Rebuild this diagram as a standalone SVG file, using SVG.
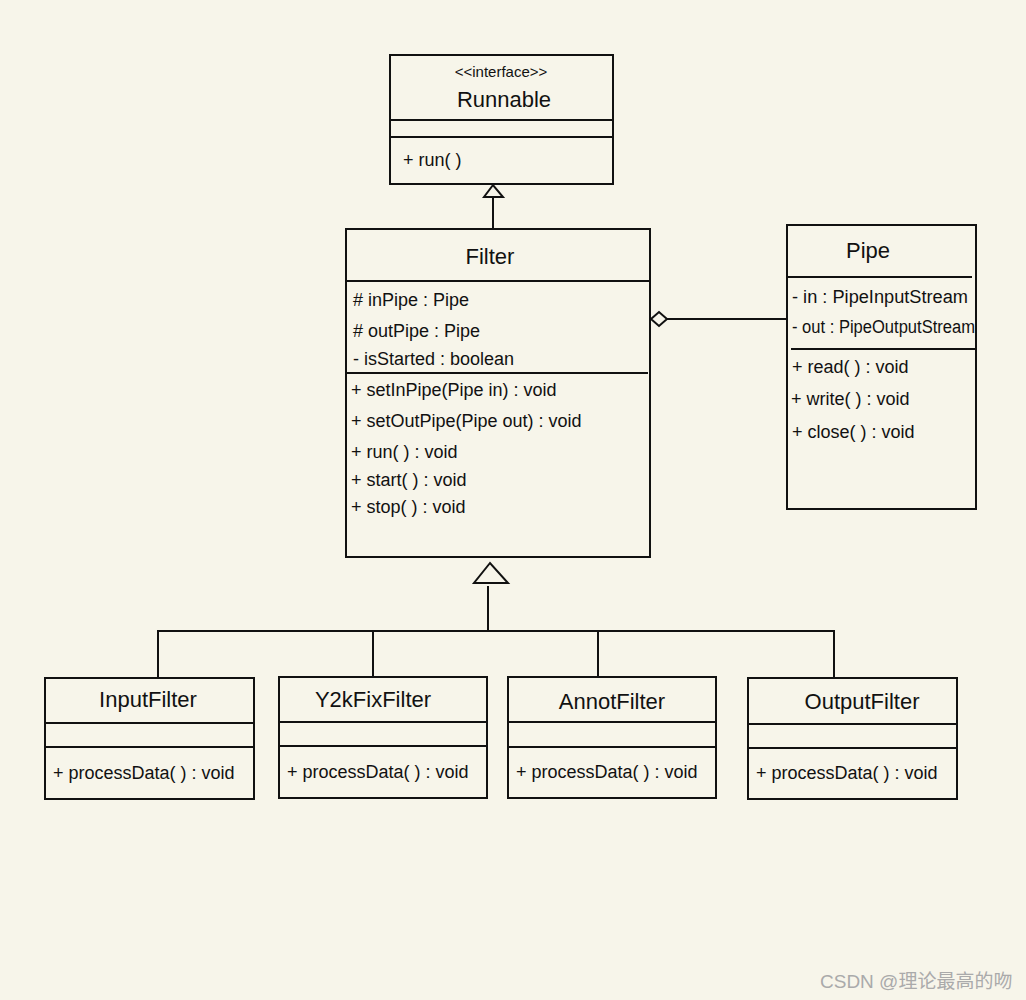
<svg xmlns="http://www.w3.org/2000/svg" width="1026" height="1000" viewBox="0 0 1026 1000">
<defs>
<style>
.box{fill:none;stroke:#111;stroke-width:2}
.ln{fill:none;stroke:#111;stroke-width:2}
.t{font-family:"Liberation Sans","DejaVu Sans",sans-serif;fill:#111;font-size:18px}
.ti{font-family:"Liberation Sans","DejaVu Sans",sans-serif;fill:#111;font-size:22px;text-anchor:middle}
.st{font-family:"Liberation Sans","DejaVu Sans",sans-serif;fill:#111;font-size:15px;text-anchor:middle}
.wm{font-family:"Liberation Sans","Noto Sans CJK SC",sans-serif;fill:#aaa;font-size:19px}
</style>
</defs>
<rect width="1026" height="1000" fill="#f7f5ea"/>
<g id="runnable">
<rect class="box" x="390" y="55" width="223" height="129"/>
<line class="ln" x1="391" y1="120" x2="612" y2="120"/>
<line class="ln" x1="391" y1="137" x2="612" y2="137"/>
<text class="st" x="501" y="77">&lt;&lt;interface&gt;&gt;</text>
<text class="ti" x="504" y="107">Runnable</text>
<text class="t" x="403" y="166">+ run( )</text>
</g>
<g id="filter">
<rect class="box" x="346" y="229" width="304" height="328"/>
<line class="ln" x1="347" y1="281" x2="649" y2="281"/>
<line class="ln" x1="347" y1="373" x2="648" y2="373"/>
<text class="ti" x="490" y="264">Filter</text>
<text class="t" x="353" y="306"># inPipe : Pipe</text>
<text class="t" x="353" y="337"># outPipe : Pipe</text>
<text class="t" x="353" y="365">- isStarted : boolean</text>
<text class="t" x="351" y="396">+ setInPipe(Pipe in) : void</text>
<text class="t" x="351" y="427">+ setOutPipe(Pipe out) : void</text>
<text class="t" x="351" y="458">+ run( ) : void</text>
<text class="t" x="351" y="486">+ start( ) : void</text>
<text class="t" x="351" y="513">+ stop( ) : void</text>
</g>
<g id="pipe">
<rect class="box" x="787" y="225" width="189" height="284"/>
<line class="ln" x1="788" y1="277" x2="972" y2="277"/>
<line class="ln" x1="791" y1="349" x2="975" y2="349"/>
<text class="ti" x="868" y="258">Pipe</text>
<text class="t" x="792" y="303" font-size="16" textLength="176" lengthAdjust="spacingAndGlyphs">- in : PipeInputStream</text>
<text class="t" x="792" y="333" font-size="16" textLength="183" lengthAdjust="spacingAndGlyphs">- out : PipeOutputStream</text>
<text class="t" x="792" y="373">+ read( ) : void</text>
<text class="t" x="791" y="405">+ write( ) : void</text>
<text class="t" x="792" y="438">+ close( ) : void</text>
</g>
<g id="inputfilter">
<rect class="box" x="45" y="678" width="209" height="121"/>
<line class="ln" x1="46" y1="723" x2="253" y2="723"/>
<line class="ln" x1="46" y1="747" x2="253" y2="747"/>
<text class="ti" x="148" y="707" font-size="20">InputFilter</text>
<text class="t" x="53" y="779">+ processData( ) : void</text>
</g>
<g id="y2kfixfilter">
<rect class="box" x="279" y="677" width="208" height="121"/>
<line class="ln" x1="280" y1="722" x2="486" y2="722"/>
<line class="ln" x1="280" y1="746" x2="486" y2="746"/>
<text class="ti" x="373" y="707" font-size="20">Y2kFixFilter</text>
<text class="t" x="287" y="778">+ processData( ) : void</text>
</g>
<g id="annotfilter">
<rect class="box" x="508" y="677" width="208" height="121"/>
<line class="ln" x1="509" y1="722" x2="715" y2="722"/>
<line class="ln" x1="509" y1="747" x2="715" y2="747"/>
<text class="ti" x="612" y="709" font-size="20">AnnotFilter</text>
<text class="t" x="516" y="778">+ processData( ) : void</text>
</g>
<g id="outputfilter">
<rect class="box" x="748" y="678" width="209" height="121"/>
<line class="ln" x1="749" y1="724" x2="956" y2="724"/>
<line class="ln" x1="749" y1="748" x2="956" y2="748"/>
<text class="ti" x="862" y="709" font-size="20">OutputFilter</text>
<text class="t" x="756" y="779">+ processData( ) : void</text>
</g>
<g id="connectors">
<line class="ln" x1="493" y1="197" x2="493" y2="229"/>
<polygon class="ln" points="493,185 484,197 503,197"/>
<polygon class="ln" points="651,319 659,312 667,319 659,326"/>
<line class="ln" x1="667" y1="319" x2="787" y2="319"/>
<polygon class="ln" points="490,563 474,583 508,583"/>
<line class="ln" x1="488" y1="586" x2="488" y2="631"/>
<polyline class="ln" points="158,679 158,631 834,631 834,679"/>
<line class="ln" x1="373" y1="631" x2="373" y2="677"/>
<line class="ln" x1="598" y1="631" x2="598" y2="677"/>
</g>
<text class="wm" x="820" y="988">CSDN @理论最高的吻</text>
</svg>
